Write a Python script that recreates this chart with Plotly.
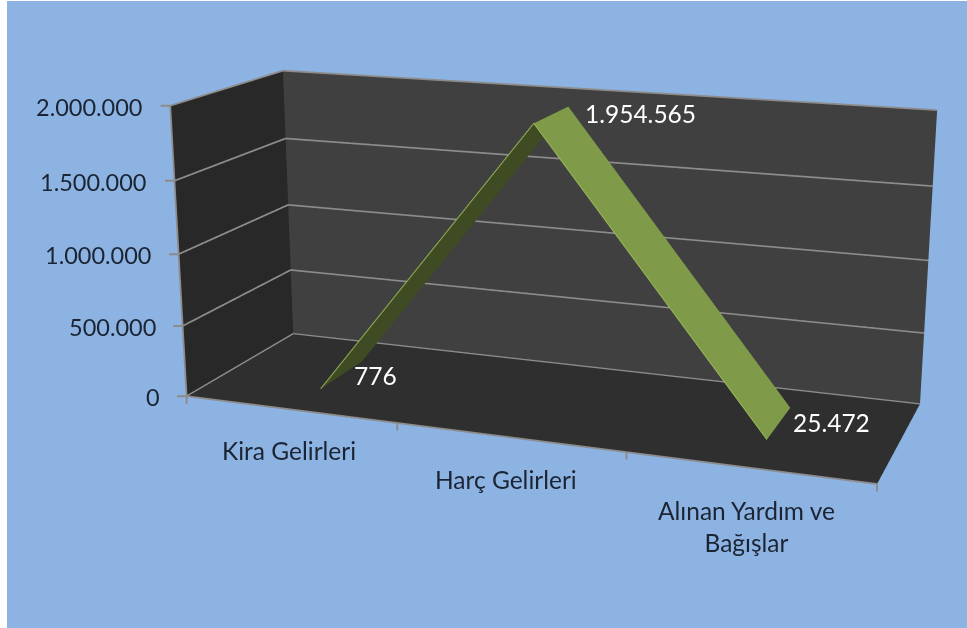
import plotly.graph_objects as go

categories = ["Kira Gelirleri", "Harç Gelirleri", "Alınan Yardım ve<br>Bağışlar"]
values = [776, 1954565, 25472]
value_labels = ["776", "1.954.565", "25.472"]
ticks = [0, 500000, 1000000, 1500000, 2000000]
tick_labels = ["0", "500.000", "1.000.000", "1.500.000", "2.000.000"]
category_positions = [0.5, 1.5, 2.5]
category_bounds = [0, 1, 2, 3]

# Ribbon depth within the chart box
d0, d1 = 0.2935, 0.7120
# Camera: a long lens gets the reference's mild perspective (fixed 45-degree fov,
# so the scene is drawn large and the window shows the part around the chart)
H = W = 1551
left, top = 547.4 - W / 2, 307.9 - H / 2

x = category_positions
xs, ys, zs = [], [], []
for xx, v in zip(x, values):
    xs += [xx, xx]
    ys += [d0, d1]
    zs += [v, v]

fig = go.Figure()
cols = ["#3F4C23", "#7F9B49"]
GR = "#8C8C8C"
# Gridlines across the left and back walls, one for each tick value
gx, gy, gz = [], [], []
for v in ticks:
    gx += [category_bounds[0], category_bounds[0], category_bounds[-1], None]
    gy += [0, 1, 1, None]
    gz += [v, v, v, None]
fig.add_trace(go.Scatter3d(x=gx, y=gy, z=gz, mode="lines", line=dict(color=GR, width=3.5), hoverinfo="skip"))
fig.add_trace(go.Mesh3d(x=xs, y=ys, z=zs, i=[0, 1, 2, 3], j=[1, 3, 3, 5], k=[2, 2, 4, 4],
                        facecolor=[cols[0], cols[0], cols[1], cols[1]], flatshading=True,
                        lighting=dict(ambient=1, diffuse=0, specular=0, fresnel=0), hoverinfo="skip"))
fig.add_trace(go.Scatter3d(x=x, y=[d0] * 3, z=values, mode="lines",
                           line=dict(color="#9BBB59", width=2), hoverinfo="skip"))
fig.add_trace(go.Scatter3d(x=[3, 0, 0], y=[0, 0, 0], z=[0, 0, ticks[-1]], mode="lines",
                           line=dict(color=GR, width=3.5), hoverinfo="skip"))
INK = "#1B2433"
ann = []
for xx, v, t, s in zip(x, values, value_labels, [(31, 13), (49, 10), (24, 17)]):
    ann.append(dict(x=xx, y=d0, z=v, text=t, showarrow=False, xanchor="left", xshift=s[0], yshift=s[1],
                    font=dict(color="white", size=24.5, family="Lato")))
for v, t in zip(ticks, tick_labels):
    ann.append(dict(x=0, y=0, z=v, text=t, showarrow=False, xanchor="right", xshift=-25, yshift=-1,
                    font=dict(color=INK, size=23.5, family="Lato")))
    ann.append(dict(x=0, y=0, z=v, text="", showarrow=True, ax=-11, ay=0, arrowhead=0, arrowwidth=2,
                    arrowcolor=GR, standoff=0))
for xx in category_bounds:
    ann.append(dict(x=xx, y=0, z=0, text="", showarrow=True, ax=0, ay=9, arrowhead=0, arrowwidth=2,
                    arrowcolor=GR, standoff=0))
for xx, t, s in zip(x, categories, [(-1, 41), (-3, 42), (-2, 59)]):
    ann.append(dict(x=xx, y=0, z=0, text=t, showarrow=False, xanchor="center", xshift=s[0], yshift=-s[1],
                    font=dict(color=INK, size=24.5, family="Lato")))

axis = dict(showspikes=False, showbackground=True, zeroline=False, title="", showticklabels=False,
            ticks="", showline=False, showgrid=False)
fig.update_layout(
    width=W, height=H, margin=dict(l=0, r=0, t=0, b=0), paper_bgcolor="#8DB3E2", showlegend=False,
    scene=dict(
        domain=dict(x=[0, 1], y=[0, 1]), aspectmode="manual",
        aspectratio=dict(x=1, y=0.3299, z=0.4235),
        camera=dict(eye=dict(x=0.8714, y=-2.3908, z=0.6619),
                    center=dict(x=-0.0101, y=0.0128, z=-0.0779), up=dict(x=0, y=0, z=1)),
        annotations=ann,
        xaxis=dict(axis, range=[0, 3], backgroundcolor="#282828"),
        yaxis=dict(axis, range=[0, 1], backgroundcolor="#404040"),
        zaxis=dict(axis, range=[0, ticks[-1]], backgroundcolor="#2F2F2F")))
post = f"""
document.documentElement.style.overflow='hidden';
document.body.style.margin='0';document.body.style.background='white';
var g=document.getElementById('{{plot_id}}');
g.style.position='absolute';g.style.left='{left:.1f}px';g.style.top='{top:.1f}px';
g.style.clipPath='inset({1-top:.1f}px 0px 0px {7-left:.1f}px)';
"""
fig.write_html("out.html", post_script=post, config=dict(displayModeBar=False))
